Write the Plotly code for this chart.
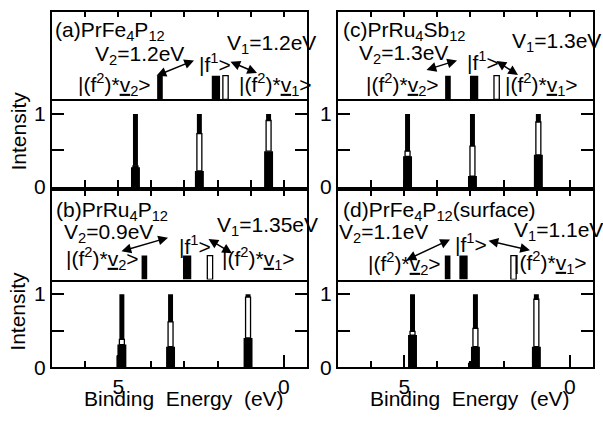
import plotly.graph_objects as go

# ---------------- data ----------------
# unperturbed levels (binding energy, eV): |(f2)*v2>, |f1>, |(f2)*v1>
a_levels = [3.74, 2.05, 1.76]
b_levels = [4.21, 2.92, 2.23]
c_levels = [3.68, 2.89, 2.21]
d_levels = [3.69, 3.21, 1.70]
level_height = [0.27, 0.27, 0.27]

# final-state peaks: energy and stacked weights (black wide / white / black narrow)
a_peaks = [4.48, 2.55, 0.46]
a_wide = [0.27, 0.22, 0.49]
a_white = [0.02, 0.51, 0.42]
a_top = [0.71, 0.27, 0.09]

b_peaks = [4.89, 3.42, 1.08]
b_wide = [0.31, 0.28, 0.40]
b_white = [0.07, 0.34, 0.56]
b_top = [0.62, 0.38, 0.04]
b_extra_E = [4.98]
b_extra_h = [0.16]

c_peaks = [4.90, 2.94, 0.95]
c_wide = [0.42, 0.15, 0.44]
c_white = [0.07, 0.41, 0.45]
c_top = [0.51, 0.44, 0.11]

d_peaks = [4.75, 2.85, 1.01]
d_wide = [0.44, 0.28, 0.28]
d_white = [0.05, 0.25, 0.65]
d_top = [0.51, 0.47, 0.07]
d_extra_E = [3.00]
d_extra_h = [0.06]

panel_titles = ["(a)PrFe<sub>4</sub>P<sub>12</sub>", "(b)PrRu<sub>4</sub>P<sub>12</sub>",
                "(c)PrRu<sub>4</sub>Sb<sub>12</sub>", "(d)PrFe<sub>4</sub>P<sub>12</sub>(surface)"]
v2_labels = ["V<sub>2</sub>=1.2eV", "V<sub>2</sub>=0.9eV", "V<sub>2</sub>=1.3eV", "V<sub>2</sub>=1.1eV"]
v1_labels = ["V<sub>1</sub>=1.2eV", "V<sub>1</sub>=1.35eV", "V<sub>1</sub>=1.3eV", "V<sub>1</sub>=1.1eV"]
ket_f1 = "|f<sup>1</sup>>"
ket_v2 = "|(f<sup>2</sup>)*<u>v</u><sub>2</sub>>"
ket_v1 = "|(f<sup>2</sup>)*<u>v</u><sub>1</sub>>"

x_tick_vals = [5, 0]
x_tick_text = ["5", "0"]
x_minor_vals = [1, 2, 3, 4, 6]
y_tick_vals = [0, 0.5, 1]
y_tick_text = ["0", "", "1"]
x_title = "Binding  Energy  (eV)"
y_title = "Intensity"

# ---------------- layout helpers ----------------
W, H = 603, 422
FAM = "Liberation Sans, Arial, sans-serif"
FONT = dict(family=FAM, size=21, color="black")
TICKFONT = dict(family=FAM, size=21, color="black")


def px(x, y):
    return x / W, 1 - y / H


# text positions (pixel offsets from each panel's top-left corner); V2 label anchored at its right end
panels = [
    dict(lv=a_levels, pk=a_peaks, wd=a_wide, wh=a_white, tp=a_top, exE=[], exH=[], x0=52, y0=12, uh=90, bottom=False,
         title=panel_titles[0], v2=v2_labels[0], v1=v1_labels[0],
         pos=dict(t=(1, 20), v2=(134, 44), v1=(173, 33), f1=(145, 53), k2=(24, 75), k1=(185, 75),
                  ar1=((103, 66), (142, 50)), ar2=((177, 51), (205, 63))), ytitle=True),
    dict(lv=b_levels, pk=b_peaks, wd=b_wide, wh=b_white, tp=b_top, exE=b_extra_E, exH=b_extra_h, x0=52, y0=196, uh=91,
         bottom=True, title=panel_titles[1], v2=v2_labels[1], v1=v1_labels[1],
         pos=dict(t=(2, 21), v2=(103, 43), v1=(163, 36), f1=(125, 56), k2=(12, 69), k1=(168, 69),
                  ar1=((68, 62), (116, 48)), ar2=((155, 49), (180, 64))), ytitle=True),
    dict(lv=c_levels, pk=c_peaks, wd=c_wide, wh=c_white, tp=c_top, exE=[], exH=[], x0=338, y0=12, uh=90, bottom=False,
         title=panel_titles[2], v2=v2_labels[2], v1=v1_labels[2],
         pos=dict(t=(3, 20), v2=(112, 43), v1=(172, 31), f1=(127, 51), k2=(26, 75), k1=(165, 75),
                  ar1=((87, 60), (119, 50)), ar2=((157, 50), (180, 65))), ytitle=False),
    dict(lv=d_levels, pk=d_peaks, wd=d_wide, wh=d_white, tp=d_top, exE=d_extra_E, exH=d_extra_h, x0=338, y0=196,
         uh=91, bottom=True, title=panel_titles[3], v2=v2_labels[3], v1=v1_labels[3],
         pos=dict(t=(3, 21), v2=(92, 43), v1=(174, 41), f1=(115, 53), k2=(28, 75), k1=(174, 74),
                  ar1=((67, 71), (112, 50)), ar2=((149, 51), (192, 61))), ytitle=False),
]

PW = 255
LH = 90
XR = [7, -0.7]

fig = go.Figure()
layout = dict(width=W, height=H, margin=dict(l=0, r=0, t=0, b=0), showlegend=False,
              plot_bgcolor="white", paper_bgcolor="white", barmode="overlay", font=FONT)
annotations = []

W_WIDE, W_NARROW, W_WHITE = 0.27, 0.15, 0.15
L_THIN, L_THICK, L_WHITE = 0.17, 0.25, 0.16

for i, p in enumerate(panels):
    ui, li = 2 * i + 1, 2 * i + 2
    xu, yu = f"x{ui}", f"y{ui}"
    xl, yl = f"x{li}", f"y{li}"
    xd = [p["x0"] / W, (p["x0"] + PW) / W]
    top = p["y0"]
    mid = top + p["uh"]
    bot = mid + LH
    dom_u = [1 - mid / H, 1 - top / H]
    dom_l = [1 - bot / H, 1 - mid / H]

    lv = p["lv"]
    fig.add_trace(go.Bar(x=[lv[0], lv[1]], y=level_height[:2], width=[L_THIN, L_THICK],
                         marker=dict(color="black", line=dict(width=0)), xaxis=xu, yaxis=yu, hoverinfo="skip"))
    fig.add_trace(go.Bar(x=[lv[2]], y=level_height[2:], width=[L_WHITE],
                         marker=dict(color="white", line=dict(color="black", width=1.3)),
                         xaxis=xu, yaxis=yu, hoverinfo="skip"))

    pk, wd, wh, tp = p["pk"], p["wd"], p["wh"], p["tp"]
    fig.add_trace(go.Bar(x=pk + p["exE"], y=wd + p["exH"], base=[0] * (len(pk) + len(p["exE"])),
                         width=[W_WIDE] * len(pk) + [W_NARROW] * len(p["exE"]),
                         marker=dict(color="black", line=dict(width=0)), xaxis=xl, yaxis=yl, hoverinfo="skip"))
    fig.add_trace(go.Bar(x=pk, y=wh, base=wd, width=[W_WHITE] * len(pk),
                         marker=dict(color="white", line=dict(color="black", width=1.3)),
                         xaxis=xl, yaxis=yl, hoverinfo="skip"))
    fig.add_trace(go.Bar(x=pk, y=tp, base=[a + b for a, b in zip(wd, wh)], width=[W_NARROW] * len(pk),
                         marker=dict(color="black", line=dict(width=0)), xaxis=xl, yaxis=yl, hoverinfo="skip"))

    key = "" if ui == 1 else str(ui)
    layout[f"xaxis{key}"] = dict(domain=xd, anchor=yu, range=XR, side="top", showline=True, linewidth=2,
                                 linecolor="black", mirror=True, ticks="inside", ticklen=5, tickwidth=1.5,
                                 tickcolor="black", tick0=0, dtick=1, showticklabels=False,
                                 showgrid=False, zeroline=False, fixedrange=True)
    layout[f"yaxis{key}"] = dict(domain=dom_u, anchor=xu, range=[0, 1], showline=True, linewidth=2,
                                 linecolor="black", mirror=True, ticks="", showticklabels=False,
                                 showgrid=False, zeroline=False, fixedrange=True)
    major_len = 12 if p["bottom"] else 7
    layout[f"xaxis{li}"] = dict(domain=xd, anchor=yl, range=XR, showline=True, linewidth=2, linecolor="black",
                                mirror=False, ticks="inside", ticklen=major_len, tickwidth=1.5, tickcolor="black",
                                tickmode="array", tickvals=x_tick_vals, ticktext=x_tick_text,
                                showticklabels=p["bottom"], tickfont=TICKFONT,
                                minor=dict(tickmode="array", tickvals=x_minor_vals, ticks="inside",
                                           ticklen=6 if p["bottom"] else 7, tickwidth=1.5, tickcolor="black"),
                                showgrid=False, zeroline=False, fixedrange=True)
    layout[f"yaxis{li}"] = dict(domain=dom_l, anchor=xl, range=[0, 1.2], showline=True, linewidth=2,
                                linecolor="black", mirror="ticks", ticks="inside", ticklen=12, tickwidth=1.5,
                                tickcolor="black", tickmode="array", tickvals=y_tick_vals, ticktext=y_tick_text,
                                tickfont=TICKFONT, showgrid=False, zeroline=False, fixedrange=True)

    ps = p["pos"]

    def txt(s, d, anchor="left"):
        x, y = px(p["x0"] + d[0], top + d[1])
        annotations.append(dict(text=s, x=x, y=y, xref="paper", yref="paper", xanchor=anchor,
                                yanchor="middle", showarrow=False, font=FONT))

    txt(p["title"], ps["t"])
    txt(p["v2"], ps["v2"], anchor="right")
    txt(p["v1"], ps["v1"])
    txt(ket_f1, ps["f1"])
    txt(ket_v2, ps["k2"])
    txt(ket_v1, ps["k1"])
    for ar in (ps["ar1"], ps["ar2"]):
        (sx, sy), (ex, ey) = ar
        x, y = px(p["x0"] + ex, top + ey)
        annotations.append(dict(text="", x=x, y=y, xref="paper", yref="paper", showarrow=True,
                                ax=sx - ex, ay=sy - ey, axref="pixel", ayref="pixel",
                                arrowhead=2, startarrowhead=2, arrowside="end+start",
                                arrowsize=1.3, startarrowsize=1.3, arrowwidth=1.5, arrowcolor="black",
                                standoff=0, startstandoff=0))

    if p["ytitle"]:
        x, y = px(18, (mid + bot) / 2 - 12)
        annotations.append(dict(text=y_title, x=x, y=y, xref="paper", yref="paper", textangle=-90,
                                xanchor="center", yanchor="middle", showarrow=False, font=FONT))
    if p["bottom"]:
        x, y = px(p["x0"] + 132, 409)
        annotations.append(dict(text=x_title, x=x, y=y, xref="paper", yref="paper",
                                xanchor="center", yanchor="middle", showarrow=False, font=FONT))

layout["annotations"] = annotations
fig.update_layout(**layout)
fig.write_html("out.html", post_script="document.body.style.margin='0';",
               config=dict(displayModeBar=False))
